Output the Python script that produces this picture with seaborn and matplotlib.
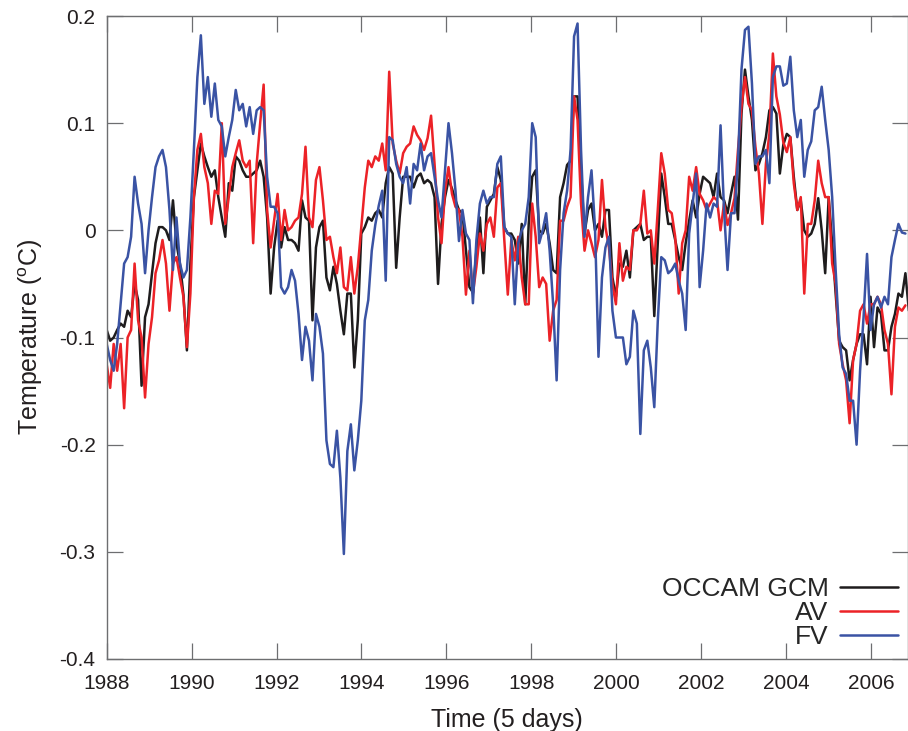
import numpy as np
import pandas as pd
import seaborn as sns
import matplotlib
matplotlib.use("Agg")
import matplotlib.pyplot as plt
from matplotlib.lines import Line2D

# Basin-mean temperature anomaly (deg C), one value every 6 pentads from Jan 1988
occam_gcm = [
    -0.093, -0.103, -0.1, -0.093, -0.087, -0.09, -0.075, -0.081, -0.05, -0.065,
    -0.145, -0.081, -0.069, -0.04, -0.012, 0.003, 0.003, 0.0, -0.009, 0.028,
    -0.012, -0.031, -0.06, -0.112, -0.031, 0.031, 0.056, 0.081, 0.069, 0.059,
    0.05, 0.056, 0.031, 0.012, -0.006, 0.044, 0.037, 0.069, 0.065, 0.056,
    0.05, 0.05, 0.053, 0.056, 0.065, 0.05, 0.012, -0.059, -0.016, 0.009,
    -0.016, 0.003, -0.009, -0.009, -0.012, -0.019, 0.028, 0.012, 0.009, -0.084,
    -0.016, 0.003, 0.009, -0.044, -0.056, -0.034, -0.05, -0.075, -0.097, -0.059,
    -0.059, -0.128, -0.084, -0.003, 0.003, 0.012, 0.009, 0.016, 0.019,
    0.012, 0.044, 0.059, 0.053, -0.035, 0.012, 0.05, 0.05, 0.05, 0.04,
    0.05, 0.053, 0.044, 0.047, 0.044, 0.031, -0.05, 0.006, 0.031, 0.047,
    0.039, 0.028, 0.019, 0.016, -0.019, -0.053, -0.058, -0.019, 0.012, -0.04,
    0.022, 0.028, 0.034, 0.059, 0.047, 0.003, -0.003, -0.003, -0.009,
    -0.031, 0.006, -0.069, 0.006, 0.05, 0.056, 0.0, -0.003, 0.006, -0.012,
    -0.037, -0.04, 0.031, 0.044, 0.061, 0.065, 0.125, 0.125, 0.056, -0.003,
    0.019, 0.025, 0.0, 0.006, -0.006, 0.019, 0.019, -0.044, -0.062, -0.031,
    -0.034, -0.019, -0.044, 0.0, 0.003, 0.006, -0.009, -0.006, -0.006,
    -0.08, -0.012, 0.053, 0.031, 0.006, 0.006, -0.009, -0.025, -0.037, -0.012,
    0.009, 0.028, 0.012, 0.034, 0.05, 0.047, 0.044, 0.031, 0.053, 0.031,
    0.028, 0.016, 0.034, 0.05, 0.01, 0.109, 0.15, 0.125, 0.103, 0.056,
    0.062, 0.072, 0.087, 0.112, 0.115, 0.109, 0.053, 0.08, 0.09, 0.087,
    0.05, 0.019, 0.028, 0.0, -0.006, -0.003, 0.006, 0.03, 0.0, -0.04,
    0.031, -0.012, -0.059, -0.103, -0.109, -0.112, -0.14, -0.121, -0.106, -0.097,
    -0.097, -0.125, -0.062, -0.109, -0.072, -0.078, -0.112, -0.112, -0.09, -0.078,
    -0.059, -0.062, -0.04, -0.075,
]

av = [
    -0.125, -0.147, -0.106, -0.131, -0.106, -0.166, -0.1, -0.093, -0.031, -0.084,
    -0.1, -0.156, -0.106, -0.081, -0.04, -0.028, -0.009, -0.031, -0.075, -0.031,
    -0.025, -0.044, -0.062, -0.109, -0.059, 0.031, 0.075, 0.09, 0.059, 0.044,
    0.006, 0.037, 0.034, 0.1, 0.006, 0.031, 0.059, 0.072, 0.084, 0.065,
    0.059, 0.065, -0.012, 0.062, 0.1, 0.136, 0.019, -0.016, 0.009, 0.034,
    -0.009, 0.019, 0.0, 0.003, 0.009, 0.012, 0.034, 0.078, 0.012, 0.003,
    0.047, 0.059, 0.028, -0.009, -0.006, -0.025, -0.04, -0.016, -0.053, -0.056,
    -0.025, -0.059, -0.034, 0.003, 0.04, 0.065, 0.059, 0.069, 0.065,
    0.081, 0.056, 0.148, 0.081, 0.065, 0.053, 0.072, 0.078, 0.081, 0.097,
    0.089, 0.084, 0.075, 0.086, 0.107, 0.062, 0.012, -0.012, 0.037, 0.059,
    0.034, 0.022, 0.019, -0.006, -0.06, -0.019, -0.059, -0.034, -0.003, -0.019,
    0.006, 0.012, -0.006, 0.04, 0.044, -0.009, -0.06, -0.009, -0.028,
    -0.006, -0.044, -0.069, -0.069, 0.025, -0.006, -0.053, -0.044, -0.05, -0.103,
    -0.075, -0.065, 0.009, 0.009, 0.022, 0.031, 0.125, 0.103, 0.025, -0.019,
    0.0, -0.012, -0.025, -0.009, 0.047, 0.003, -0.016, -0.05, -0.069, -0.012,
    -0.047, -0.034, -0.037, 0.0, 0.0, 0.006, 0.037, -0.003, 0.0,
    -0.031, 0.019, 0.072, 0.053, 0.019, 0.016, -0.006, -0.059, -0.012, 0.0,
    0.05, 0.037, 0.059, 0.034, 0.028, 0.019, 0.025, 0.031, 0.028, 0.0,
    0.025, 0.005, 0.016, 0.03, 0.075, 0.115, 0.143, 0.118, 0.112, 0.078,
    0.053, 0.006, 0.062, 0.09, 0.165, 0.125, 0.108, 0.082, 0.073, 0.087,
    0.044, 0.019, 0.031, -0.059, 0.006, 0.006, 0.028, 0.065, 0.044, 0.031,
    0.031, -0.031, -0.05, -0.106, -0.125, -0.14, -0.18, -0.121, -0.106, -0.075,
    -0.069, -0.087, -0.069, -0.069, -0.062, -0.069, -0.093, -0.106, -0.153, -0.09,
    -0.072, -0.075, -0.07, np.nan,
]

fv = [
    -0.106, -0.121, -0.131, -0.106, -0.069, -0.031, -0.025, -0.006, 0.05, 0.025,
    0.006, -0.04, 0.0, 0.031, 0.059, 0.069, 0.075, 0.059, 0.019, -0.037,
    0.012, -0.031, -0.044, -0.037, 0.012, 0.075, 0.143, 0.182, 0.118, 0.143,
    0.106, 0.137, 0.103, 0.097, 0.069, 0.087, 0.103, 0.131, 0.112, 0.118,
    0.097, 0.115, 0.09, 0.112, 0.115, 0.112, 0.05, 0.022, 0.022, 0.016,
    -0.053, -0.059, -0.053, -0.037, -0.047, -0.078, -0.121, -0.09, -0.103, -0.14,
    -0.078, -0.09, -0.115, -0.196, -0.218, -0.221, -0.187, -0.231, -0.302, -0.206,
    -0.181, -0.224, -0.196, -0.159, -0.084, -0.065, -0.019, 0.005, 0.023,
    0.037, -0.047, 0.087, 0.084, 0.062, 0.05, 0.044, 0.059, 0.025, 0.062,
    0.056, 0.081, 0.056, 0.069, 0.072, 0.05, 0.028, 0.012, 0.056, 0.1,
    0.072, 0.037, -0.01, 0.019, -0.003, -0.009, -0.068, -0.009, 0.025, 0.037,
    0.025, 0.031, 0.031, 0.062, 0.069, 0.003, -0.003, -0.006, -0.069,
    -0.012, 0.0, 0.006, 0.031, 0.1, 0.087, -0.012, 0.0, 0.016, -0.019,
    -0.069, -0.14, -0.037, 0.016, 0.037, 0.075, 0.181, 0.193, 0.075, -0.006,
    0.031, 0.056, 0.003, -0.118, -0.044, -0.016, -0.006, -0.075, -0.1, -0.1,
    -0.1, -0.125, -0.118, -0.075, -0.087, -0.19, -0.112, -0.103, -0.128,
    -0.165, -0.085, -0.025, -0.028, -0.04, -0.037, -0.031, -0.047, -0.059, -0.093,
    -0.003, 0.025, 0.053, -0.053, -0.019, 0.025, 0.012, 0.025, 0.022, 0.098,
    0.019, -0.037, 0.016, 0.016, 0.065, 0.15, 0.187, 0.19, 0.137, 0.062,
    0.069, 0.069, 0.075, 0.044, 0.143, 0.153, 0.153, 0.135, 0.137, 0.162,
    0.112, 0.087, 0.103, 0.05, 0.075, 0.083, 0.112, 0.115, 0.134, 0.103,
    0.075, 0.031, -0.037, -0.097, -0.128, -0.134, -0.159, -0.159, -0.2, -0.131,
    -0.081, -0.022, -0.093, -0.069, -0.062, -0.072, -0.062, -0.069, -0.025, -0.009,
    0.006, -0.002, -0.003, np.nan,
]

series_names = ["OCCAM GCM", "AV", "FV"]
series_colors = ["#1e1c1d", "#ec2227", "#3a53a4"]
x_ticks = [1988, 1990, 1992, 1994, 1996, 1998, 2000, 2002, 2004, 2006]
y_ticks = [-0.4, -0.3, -0.2, -0.1, 0.0, 0.1, 0.2]

# time axis: 30-day steps starting 1 Jan 1988
n = len(occam_gcm)
time = 1988 + np.arange(n) * 30 / 365.25

df = pd.concat(
    [pd.DataFrame({"time": time, "temp": vals, "model": name})
     for name, vals in zip(series_names, [occam_gcm, av, fv])],
    ignore_index=True,
).dropna()

sns.set_style("ticks")
plt.rcParams["font.family"] = ["Liberation Sans", "DejaVu Sans"]
plt.rcParams["axes.unicode_minus"] = False
plt.rcParams["mathtext.fontset"] = "custom"
plt.rcParams["mathtext.rm"] = "Liberation Sans"

fig = plt.figure(figsize=(9.08, 7.31), dpi=100)
ax = fig.add_axes([0.1175, 0.0985, 0.8825, 0.8796])

palette = dict(zip(series_names, series_colors))
sns.lineplot(data=df, x="time", y="temp", hue="model", hue_order=series_names,
             palette=palette, estimator=None, sort=False, legend=False,
             linewidth=1.8, ax=ax)

ax.set_xlim(1988, 2006.87)
ax.set_ylim(-0.4, 0.2)
ax.set_xticks(x_ticks)
ax.set_xticklabels([str(t) for t in x_ticks])
ax.set_yticks(y_ticks)
ax.set_yticklabels(["-0.4", "-0.3", "-0.2", "-0.1", "0", "0.1", "0.2"])

spine_col = "#6d6e70"
for s in ax.spines.values():
    s.set_visible(True)
    s.set_color(spine_col)
    s.set_linewidth(1.0)
ax.tick_params(axis="both", which="major", direction="in", length=11.5,
               width=0.9, color=spine_col, labelsize=15, labelcolor="#231f20",
               top=True, right=True)
ax.tick_params(axis="x", pad=11)
ax.tick_params(axis="y", pad=8)

ax.set_xlabel("Time (5 days)", fontsize=18, color="#231f20")
ax.set_ylabel(r"Temperature ($^{\rm o}$C)", fontsize=18, color="#231f20")
ax.xaxis.set_label_coords(0.5, -0.076)
ax.yaxis.set_label_coords(-0.077, 0.5)

handles = [Line2D([0], [0], color=c, lw=1.8) for c in series_colors]
ax.legend(handles, series_names, loc="lower right", frameon=False,
          markerfirst=False, fontsize=19, handlelength=2.2,
          handletextpad=0.45, labelspacing=0.0, borderpad=0,
          borderaxespad=0, bbox_to_anchor=(0.988, 0.015))

fig.savefig("out.png", dpi=100)
